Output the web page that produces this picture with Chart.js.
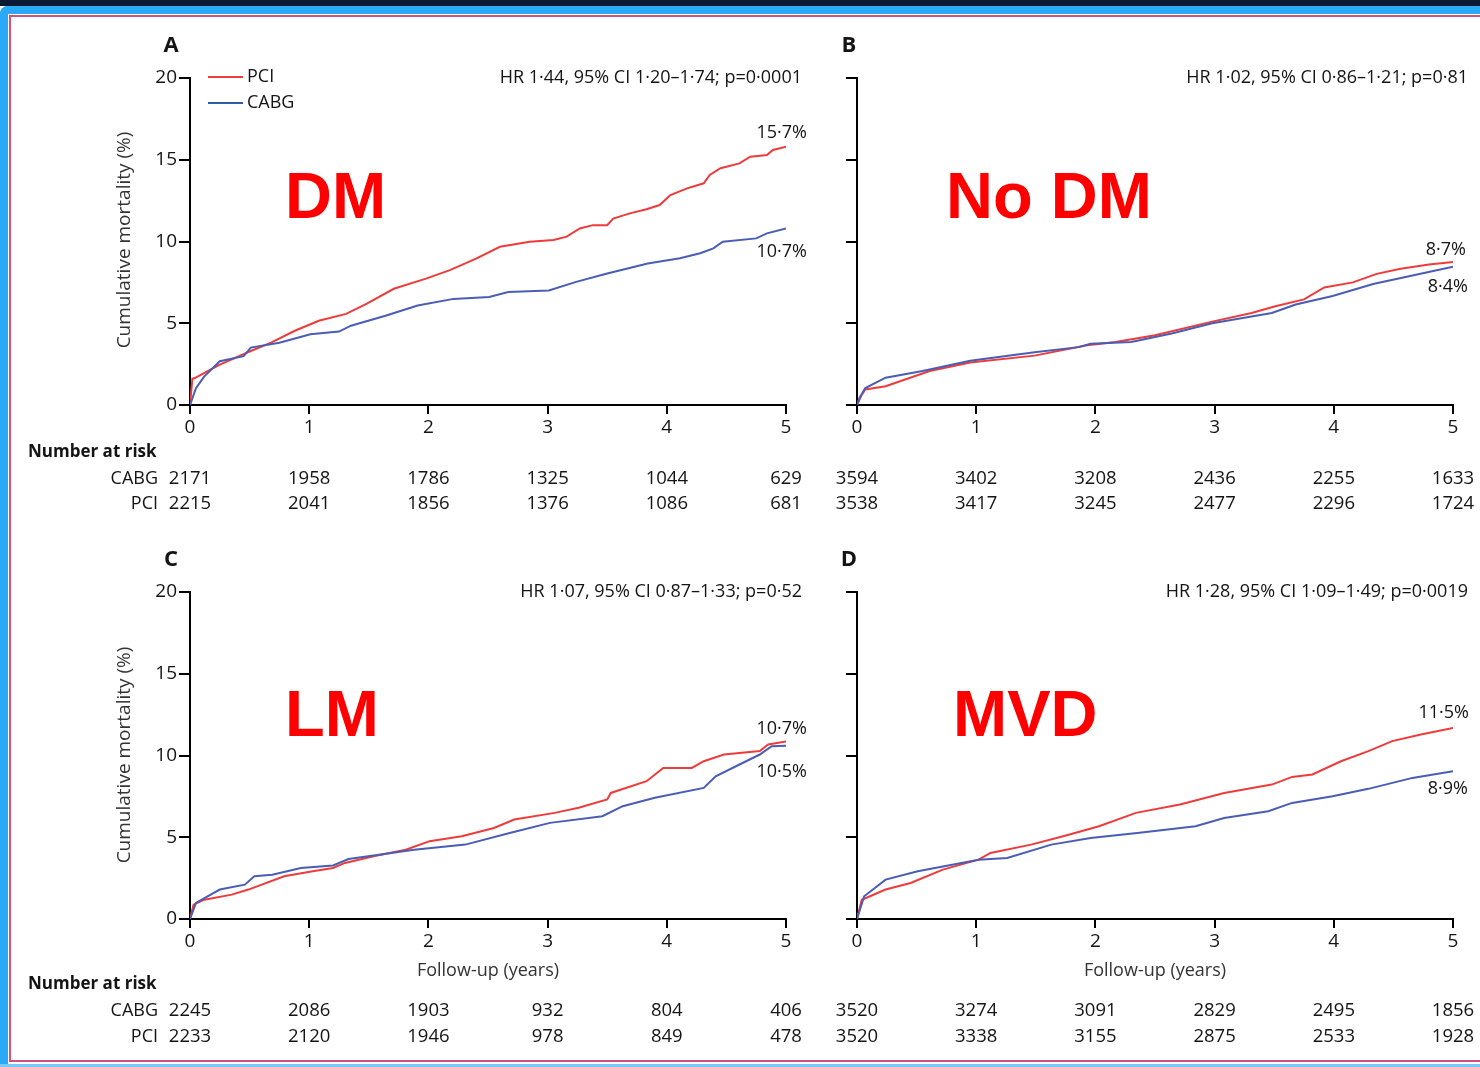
<!DOCTYPE html>
<html><head><meta charset="utf-8">
<script src="https://cdn.jsdelivr.net/npm/chart.js@4.4.0/dist/chart.umd.min.js"></script>
<style>
html,body{margin:0;padding:0;background:#fff;}
#page{position:relative;width:1480px;height:1067px;overflow:hidden;background:#fff;}
canvas{position:absolute;}
.fr{position:absolute;}
</style></head><body><div id="page">
<div class="fr" style="left:0;top:0;width:1480px;height:6px;background:#0b1a33"></div>
<div class="fr" style="left:0;top:6px;width:1480px;height:8px;background:#29a9f6;border-top-left-radius:8px"></div>
<div class="fr" style="left:0;top:6px;width:8px;height:1061px;background:#29a9f6;border-top-left-radius:8px"></div>
<div class="fr" style="left:0;top:1064px;width:1480px;height:3px;background:#7cc8f5"></div>
<div class="fr" style="left:9px;top:15px;width:1500px;height:1043px;border:2px solid #d6517a"></div>
<canvas id="cA" width="820" height="530" style="left:0;top:0"></canvas>
<canvas id="cB" width="660" height="530" style="left:820px;top:0"></canvas>
<canvas id="cC" width="820" height="537" style="left:0;top:530px"></canvas>
<canvas id="cD" width="660" height="537" style="left:820px;top:530px"></canvas>
</div>
<script>
// ---------- DATA ----------
const years = [0, 1, 2, 3, 4, 5];
const yTicks = [0, 5, 10, 15, 20];

const dmPci = [[0,0],[0.02,1.6],[0.04,1.65],[0.25,2.47],[0.51,3.3],[0.68,3.81],[0.88,4.54],[1.08,5.15],[1.31,5.57],[1.48,6.19],[1.71,7.11],[1.98,7.73],[2.18,8.25],[2.4,8.95],[2.6,9.68],[2.85,9.99],[3.05,10.09],[3.16,10.3],[3.27,10.8],[3.38,11.0],[3.5,11.0],[3.55,11.4],[3.69,11.72],[3.83,11.97],[3.94,12.23],[4.03,12.84],[4.17,13.25],[4.31,13.56],[4.36,14.07],[4.45,14.48],[4.61,14.78],[4.7,15.19],[4.84,15.29],[4.89,15.6],[5.0,15.8]];
const dmCabg = [[0,0],[0.05,1.03],[0.12,1.75],[0.25,2.68],[0.45,2.99],[0.51,3.51],[0.75,3.81],[1.01,4.33],[1.25,4.49],[1.35,4.85],[1.64,5.46],[1.91,6.08],[2.21,6.49],[2.51,6.6],[2.67,6.91],[3.01,7.01],[3.24,7.53],[3.5,8.04],[3.84,8.66],[4.11,8.97],[4.28,9.28],[4.39,9.58],[4.47,9.99],[4.75,10.19],[4.84,10.5],[5.0,10.8]];
const noDmPci = [[0,0],[0.04,0.63],[0.07,0.95],[0.24,1.15],[0.61,2.08],[0.95,2.6],[1.49,3.02],[1.93,3.65],[2.17,3.85],[2.5,4.27],[2.98,5.1],[3.31,5.63],[3.51,6.04],[3.75,6.46],[3.92,7.19],[4.16,7.5],[4.36,8.02],[4.56,8.33],[4.8,8.6],[5.0,8.75]];
const noDmCabg = [[0,0],[0.02,0.42],[0.07,1.04],[0.24,1.67],[0.55,2.08],[0.95,2.71],[1.49,3.23],[1.86,3.54],[1.96,3.75],[2.3,3.85],[2.64,4.37],[2.98,5.0],[3.48,5.63],[3.68,6.15],[3.99,6.67],[4.33,7.4],[4.66,7.92],[5.0,8.45]];
const lmPci = [[0,0],[0.03,0.88],[0.12,1.18],[0.35,1.49],[0.49,1.8],[0.79,2.61],[1.03,2.92],[1.2,3.12],[1.3,3.43],[1.54,3.84],[1.81,4.24],[2.01,4.76],[2.28,5.06],[2.55,5.57],[2.72,6.08],[3.06,6.49],[3.26,6.8],[3.5,7.31],[3.53,7.71],[3.83,8.43],[3.97,9.24],[4.21,9.24],[4.31,9.65],[4.48,10.06],[4.78,10.27],[4.85,10.67],[5.0,10.85]];
const lmCabg = [[0,0],[0.05,0.98],[0.25,1.8],[0.46,2.1],[0.54,2.61],[0.69,2.71],[0.93,3.12],[1.2,3.27],[1.33,3.67],[1.6,3.94],[1.88,4.24],[2.31,4.55],[2.69,5.27],[3.02,5.88],[3.46,6.29],[3.63,6.9],[3.9,7.41],[4.31,8.02],[4.41,8.73],[4.61,9.45],[4.78,10.06],[4.88,10.57],[5.0,10.6]];
const mvdPci = [[0,0],[0.04,1.18],[0.24,1.8],[0.45,2.2],[0.72,3.02],[1.02,3.63],[1.12,4.04],[1.46,4.55],[1.73,5.06],[2.03,5.67],[2.34,6.49],[2.71,7.0],[3.08,7.71],[3.48,8.22],[3.65,8.69],[3.82,8.84],[4.06,9.65],[4.29,10.27],[4.49,10.88],[4.73,11.29],[5.0,11.69]];
const mvdCabg = [[0,0],[0.06,1.39],[0.24,2.41],[0.51,2.92],[1.02,3.63],[1.26,3.73],[1.63,4.55],[1.96,4.96],[2.37,5.27],[2.84,5.67],[3.08,6.18],[3.45,6.59],[3.65,7.1],[3.99,7.51],[4.29,7.96],[4.66,8.63],[5.0,9.04]];

const dmCabgRisk = [2171, 1958, 1786, 1325, 1044, 629];
const dmPciRisk = [2215, 2041, 1856, 1376, 1086, 681];
const noDmCabgRisk = [3594, 3402, 3208, 2436, 2255, 1633];
const noDmPciRisk = [3538, 3417, 3245, 2477, 2296, 1724];
const lmCabgRisk = [2245, 2086, 1903, 932, 804, 406];
const lmPciRisk = [2233, 2120, 1946, 978, 849, 478];
const mvdCabgRisk = [3520, 3274, 3091, 2829, 2495, 1856];
const mvdPciRisk = [3520, 3338, 3155, 2875, 2533, 1928];

const hrTexts = ['HR 1·44, 95% CI 1·20–1·74; p=0·0001', 'HR 1·02, 95% CI 0·86–1·21; p=0·81', 'HR 1·07, 95% CI 0·87–1·33; p=0·52', 'HR 1·28, 95% CI 1·09–1·49; p=0·0019'];
const panelLetters = ['A', 'B', 'C', 'D'];
const groupLabels = ['DM', 'No DM', 'LM', 'MVD'];
const endLabels = [['15·7%', '10·7%'], ['8·7%', '8·4%'], ['10·7%', '10·5%'], ['11·5%', '8·9%']];
const seriesNames = ['PCI', 'CABG'];

// ---------- STYLE ----------
const FONT = '"Open Sans", "DejaVu Sans", sans-serif';
const TXT = '#141414';
const RED = '#ee3b3b';
const BLUE = '#4a5db4';
Chart.defaults.font.family = FONT;

const panelText = {
  id: 'panelText',
  afterDraw(chart, args, o) {
    const ctx = chart.ctx, ca = chart.chartArea, xs = chart.scales.x;
    ctx.save();
    ctx.fillStyle = TXT;
    ctx.textBaseline = 'middle';
    // panel letter
    ctx.font = 'bold 22px ' + FONT;
    ctx.textAlign = 'center';
    ctx.fillText(o.letter, o.letterX, ca.top - 32);
    // HR text
    ctx.font = '18px ' + FONT;
    ctx.textAlign = 'right';
    ctx.fillText(o.hr, ca.right + o.hrDx, ca.top);
    // end labels
    ctx.font = '18px ' + FONT;
    ctx.fillText(o.ends[0], o.endX[0], o.endY[0]);
    ctx.fillText(o.ends[1], o.endX[1], o.endY[1]);
    // big group label
    ctx.fillStyle = '#ff0000';
    ctx.font = 'bold 65px "Liberation Sans", Arial, sans-serif';
    ctx.textAlign = 'left';
    ctx.fillText(o.big, o.bigX, o.bigY);
    ctx.fillStyle = TXT;
    // legend
    if (o.legend) {
      ctx.lineWidth = 2;
      ctx.strokeStyle = '#e8403a';
      ctx.beginPath(); ctx.moveTo(208, 77); ctx.lineTo(243, 77); ctx.stroke();
      ctx.strokeStyle = '#2b5ca6';
      ctx.beginPath(); ctx.moveTo(208, 103); ctx.lineTo(243, 103); ctx.stroke();
      ctx.font = '18px ' + FONT;
      ctx.textAlign = 'left';
      ctx.fillText(seriesNames[0], 247, 77);
      ctx.fillText(seriesNames[1], 247, 103);
    }
    // y title
    if (o.yTitle) {
      ctx.save();
      ctx.translate(125, o.yTitleY);
      ctx.rotate(-Math.PI / 2);
      ctx.font = '19px ' + FONT;
      ctx.fillStyle = '#333';
      ctx.textAlign = 'center';
      ctx.fillText('Cumulative mortality (%)', 0, 0);
      ctx.restore();
    }
    // x title
    if (o.xTitle) {
      ctx.font = '18px ' + FONT;
      ctx.textAlign = 'center';
      ctx.fillStyle = '#333';
      ctx.fillText('Follow-up (years)', (ca.left + ca.right) / 2, ca.bottom + o.xTitleDy);
      ctx.fillStyle = TXT;
    }
    // number at risk
    if (o.rowLabels) {
      ctx.font = 'bold 17px ' + FONT;
      ctx.textAlign = 'left';
      ctx.fillText('Number at risk', 28, ca.bottom + o.narDy);
      ctx.font = '18px ' + FONT;
      ctx.textAlign = 'right';
      ctx.fillText(seriesNames[1], 158, ca.bottom + o.row1Dy);
      ctx.fillText(seriesNames[0], 158, ca.bottom + o.row2Dy);
    }
    ctx.font = '18.5px ' + FONT;
    ctx.textAlign = 'center';
    years.forEach((yr, i) => {
      const px = xs.getPixelForValue(yr);
      ctx.fillText(String(o.cabgRisk[i]), px, ca.bottom + o.row1Dy);
      ctx.fillText(String(o.pciRisk[i]), px, ca.bottom + o.row2Dy);
    });
    ctx.restore();
  }
};

function makePanel(id, pci, cabg, cfg) {
  const yLabels = cfg.yLabels;
  return new Chart(document.getElementById(id), {
    type: 'line',
    data: {
      datasets: [
        { label: 'CABG', data: cabg.map(p => ({ x: p[0], y: p[1] })), borderColor: BLUE, borderWidth: 2, pointRadius: 0, tension: 0, fill: false },
        { label: 'PCI', data: pci.map(p => ({ x: p[0], y: p[1] })), borderColor: RED, borderWidth: 2, pointRadius: 0, tension: 0, fill: false }
      ]
    },
    options: {
      responsive: false,
      animation: false,
      devicePixelRatio: 1,
      layout: { padding: cfg.padding },
      plugins: { legend: { display: false }, tooltip: { enabled: false }, panelText: cfg.text },
      scales: {
        x: {
          type: 'linear', min: 0, max: 5, position: 'bottom',
          afterFit: s => { s.height = 40; },
          afterBuildTicks: s => { s.ticks = years.map(v => ({ value: v })); },
          ticks: { color: TXT, font: { size: 19 }, padding: 2, maxRotation: 0, autoSkip: false },
          grid: { drawOnChartArea: false, drawTicks: true, tickLength: 9, color: '#000', lineWidth: 2 },
          border: { display: true, color: '#000', width: 2 }
        },
        y: {
          type: 'linear', min: 0, max: 20, position: 'left',
          afterFit: s => { s.width = cfg.yWidth; },
          afterBuildTicks: s => { s.ticks = yTicks.map(v => ({ value: v })); },
          ticks: { display: yLabels, color: TXT, font: { size: 19 }, padding: 2 },
          grid: { drawOnChartArea: false, drawTicks: true, tickLength: 11, color: '#000', lineWidth: 2 },
          border: { display: true, color: '#000', width: 2 }
        }
      }
    },
    plugins: [panelText]
  });
}

// Panel A: chart area x 190-786, y 78-405 (page)
makePanel('cA', dmPci, dmCabg, {
  yLabels: true, yWidth: 50,
  padding: { left: 140, top: 78, right: 34, bottom: 530 - 405 - 40 },
  text: { letter: panelLetters[0], letterX: 171, hr: hrTexts[0], hrDx: 16,
    ends: endLabels[0], endX: [807, 807], endY: [133, 252],
    big: groupLabels[0], bigX: 285, bigY: 200,
    legend: true, yTitle: true, yTitleY: 240, xTitle: false,
    rowLabels: true, narDy: 47, row1Dy: 74, row2Dy: 99,
    cabgRisk: dmCabgRisk, pciRisk: dmPciRisk }
});
// Panel B: chart area x 857-1453 (canvas 37-633)
makePanel('cB', noDmPci, noDmCabg, {
  yLabels: false, yWidth: 30,
  padding: { left: 7, top: 78, right: 27, bottom: 530 - 405 - 40 },
  text: { letter: panelLetters[1], letterX: 29, hr: hrTexts[1], hrDx: 15,
    ends: endLabels[1], endX: [646, 648], endY: [250, 287],
    big: groupLabels[1], bigX: 126, bigY: 200,
    legend: false, yTitle: false, xTitle: false,
    rowLabels: false, narDy: 47, row1Dy: 74, row2Dy: 99,
    cabgRisk: noDmCabgRisk, pciRisk: noDmPciRisk }
});
// Panel C: chart area x 190-786, y 592-919 (canvas 62-389)
makePanel('cC', lmPci, lmCabg, {
  yLabels: true, yWidth: 50,
  padding: { left: 140, top: 62, right: 34, bottom: 537 - 389 - 40 },
  text: { letter: panelLetters[2], letterX: 171, hr: hrTexts[2], hrDx: 16,
    ends: endLabels[2], endX: [807, 807], endY: [199, 242],
    big: groupLabels[2], bigX: 285, bigY: 188,
    legend: false, yTitle: true, yTitleY: 225, xTitle: true, xTitleDy: 52,
    rowLabels: true, narDy: 65, row1Dy: 92, row2Dy: 118,
    cabgRisk: lmCabgRisk, pciRisk: lmPciRisk }
});
// Panel D
makePanel('cD', mvdPci, mvdCabg, {
  yLabels: false, yWidth: 30,
  padding: { left: 7, top: 62, right: 27, bottom: 537 - 389 - 40 },
  text: { letter: panelLetters[3], letterX: 29, hr: hrTexts[3], hrDx: 15,
    ends: endLabels[3], endX: [649, 648], endY: [183, 259],
    big: groupLabels[3], bigX: 133, bigY: 188,
    legend: false, yTitle: false, xTitle: true, xTitleDy: 52,
    rowLabels: false, narDy: 65, row1Dy: 92, row2Dy: 118,
    cabgRisk: mvdCabgRisk, pciRisk: mvdPciRisk }
});
</script>
</body></html>
